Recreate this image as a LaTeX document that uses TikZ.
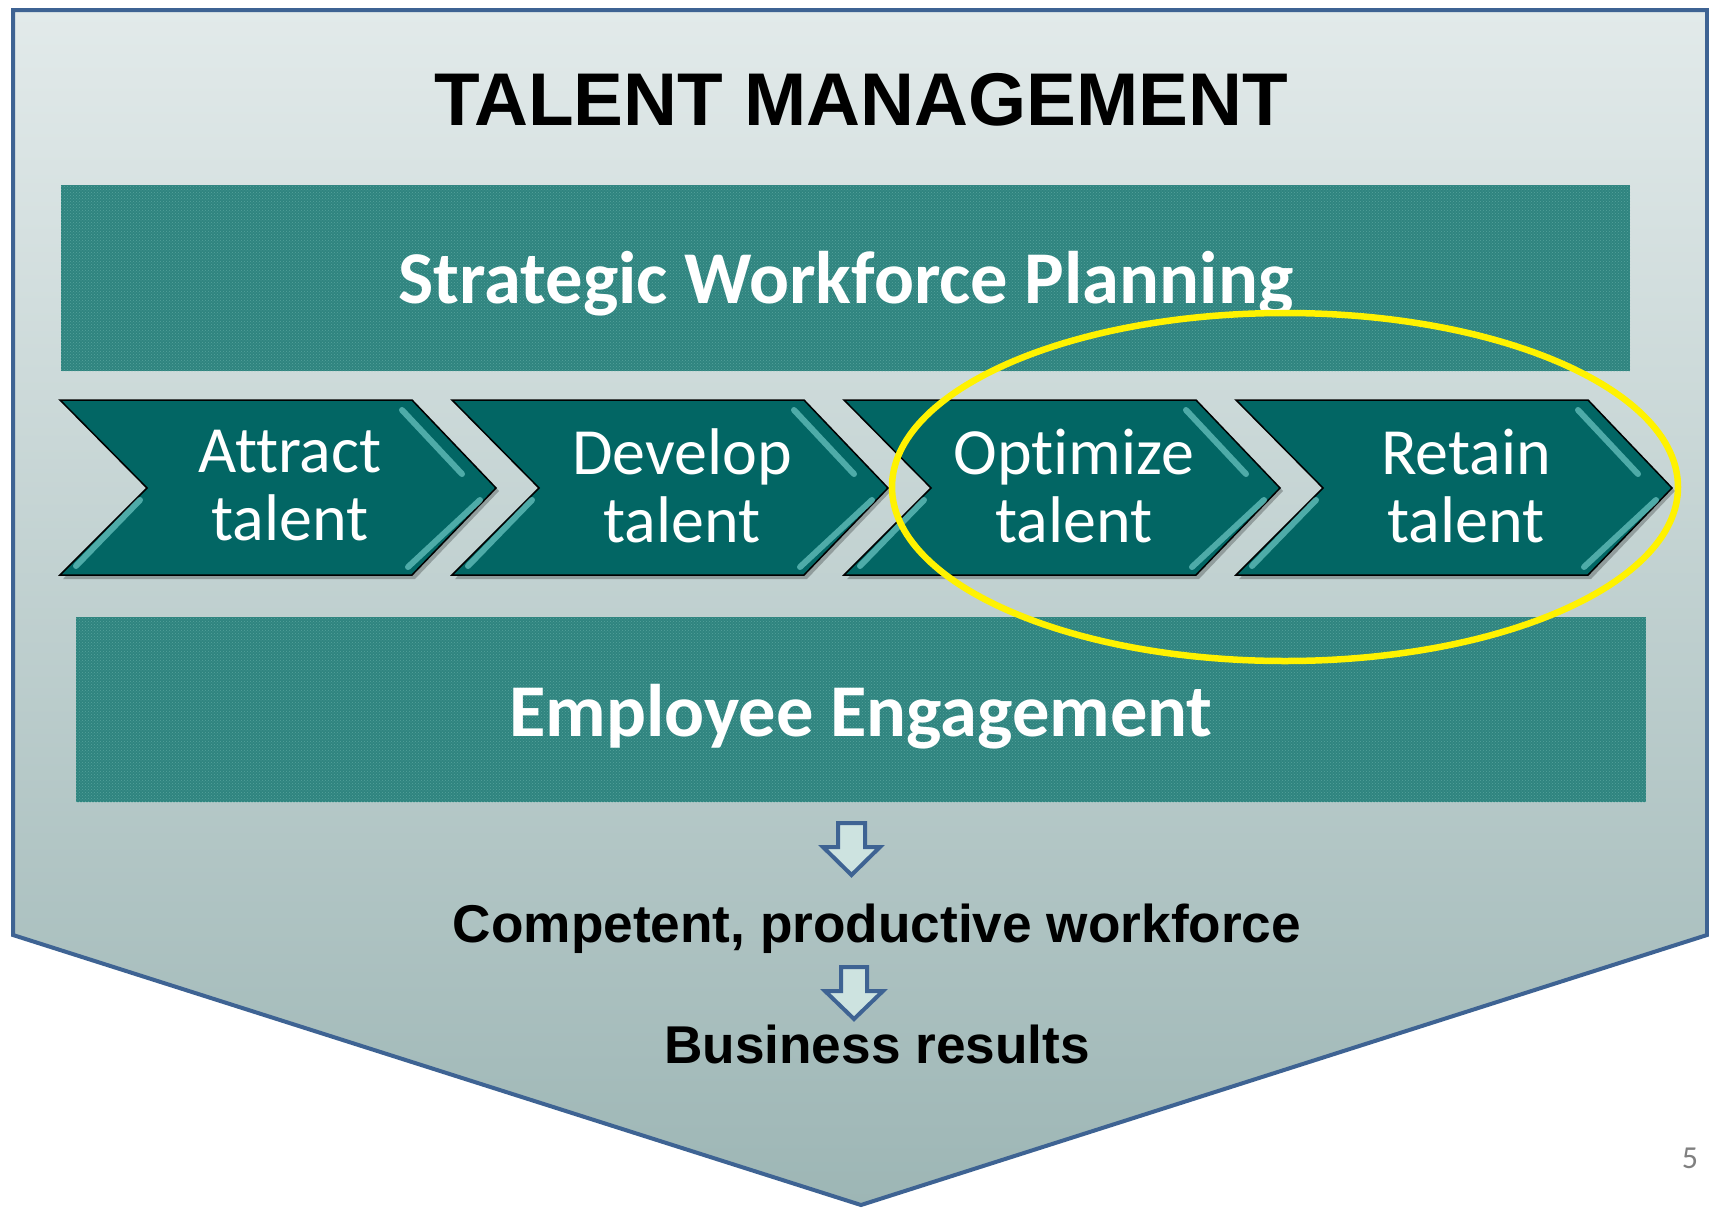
\documentclass[tikz,border=0pt]{standalone}
\usepackage{fontspec}
\newfontfamily\calibri[Ligatures=NoCommon]{Carlito}
\newfontfamily\arialf{Liberation Sans}
\usetikzlibrary{patterns,calc}
\definecolor{bgtop}{HTML}{E2EAEA}
\definecolor{bgbot}{HTML}{9DB6B5}
\definecolor{frame}{HTML}{3E6393}
\definecolor{boxteal}{HTML}{2F847F}
\definecolor{boxdot}{HTML}{55A29C}
\definecolor{chev}{HTML}{026664}
\definecolor{chevhi}{HTML}{6FC9C6}
\definecolor{arrfill}{HTML}{CDE3E0}
\tikzset{
  bandbox/.style={fill=boxteal},
  bandtext/.style={text=white,font=\calibri\bfseries\fontsize{74.5}{80}\selectfont,anchor=base,inner sep=0pt},
  chevtext/.style={text=white,font=\calibri\fontsize{66}{68}\selectfont,align=center,inner sep=0pt},
  bottext/.style={text=black,font=\arialf\bfseries\fontsize{53.2}{60}\selectfont,anchor=base,inner sep=0pt},
  downarrow/.style={draw=frame,fill=arrfill,line width=4pt,line join=miter},
  hiline/.style={draw=chevhi,line width=6pt,opacity=0.7,line cap=round},
}
\begin{document}
\begin{tikzpicture}[x=1pt,y=-1pt]
\useasboundingbox (0,0) rectangle (1709,1208);
\fill[white] (0,0) rectangle (1709,1208);
% outer pentagon
\shade[top color=bgtop,bottom color=bgbot] (13,10) -- (1707,10) -- (1707,935) -- (861,1205) -- (13,935) -- cycle;
\draw[frame,line width=4pt,line join=miter] (13,10) -- (1707,10) -- (1707,935) -- (861,1205) -- (13,935) -- cycle;
% title
\node[font=\arialf\bfseries\fontsize{74.7}{80}\selectfont,anchor=base,inner sep=0pt] (title) at (861,125) {TALENT MANAGEMENT};
% bands
\fill[bandbox] (61,185) rectangle (1630,371);
\fill[pattern=crosshatch dots,pattern color=boxdot] (61,185) rectangle (1630,371);
\node[bandtext] (swp) at (846,303) {Strategic Workforce Planning};
\fill[bandbox] (76,617) rectangle (1646,802);
\fill[pattern=crosshatch dots,pattern color=boxdot] (76,617) rectangle (1646,802);
\node[bandtext] (ee) at (861,736) {Employee Engagement};
% chevrons
\foreach \i/\a/\b in {0/Attract/c1,1/Develop/c2,2/Optimize/c3,3/Retain/c4}{
  \pgfmathsetmacro{\L}{60+392*\i}
  \fill[black,opacity=0.25] (\L+3,403) -- (\L+355,403) -- (\L+439,491) -- (\L+355,579) -- (\L+3,579) -- (\L+90,491) -- cycle;
  \fill[chev,draw=black,line width=1.5pt] (\L,400) -- (\L+352,400) -- (\L+436,488) -- (\L+352,575) -- (\L,575) -- (\L+87,488) -- cycle;
  \draw[hiline] (\L+342,410) -- (\L+402,474);
  \draw[hiline] (\L+420,500) -- (\L+348,567);
  \draw[hiline] (\L+80,500) -- (\L+16,566);
  \node[chevtext] (\b) at (\L+230,486) {\a\\talent};
}
% arrows and results
\draw[downarrow] (838,823) -- (865,823) -- (865,847) -- (880,847) -- (851.5,875) -- (823,847) -- (838,847) -- cycle;
\node[bottext] (cpw) at (877,942) {Competent, productive workforce};
\draw[downarrow] (841,967) -- (867,967) -- (867,991) -- (883,991) -- (854,1019) -- (825,991) -- (841,991) -- cycle;
\node[bottext] (br) at (877,1063) {Business results};
% highlight ellipse
\draw[yellow,line width=6.5pt] (1285,487) ellipse [x radius=393,y radius=174];
% page number
\node[text=gray,font=\calibri\fontsize{32}{36}\selectfont,inner sep=0pt] (pg) at (1690,1158) {5};
\end{tikzpicture}
\end{document}
